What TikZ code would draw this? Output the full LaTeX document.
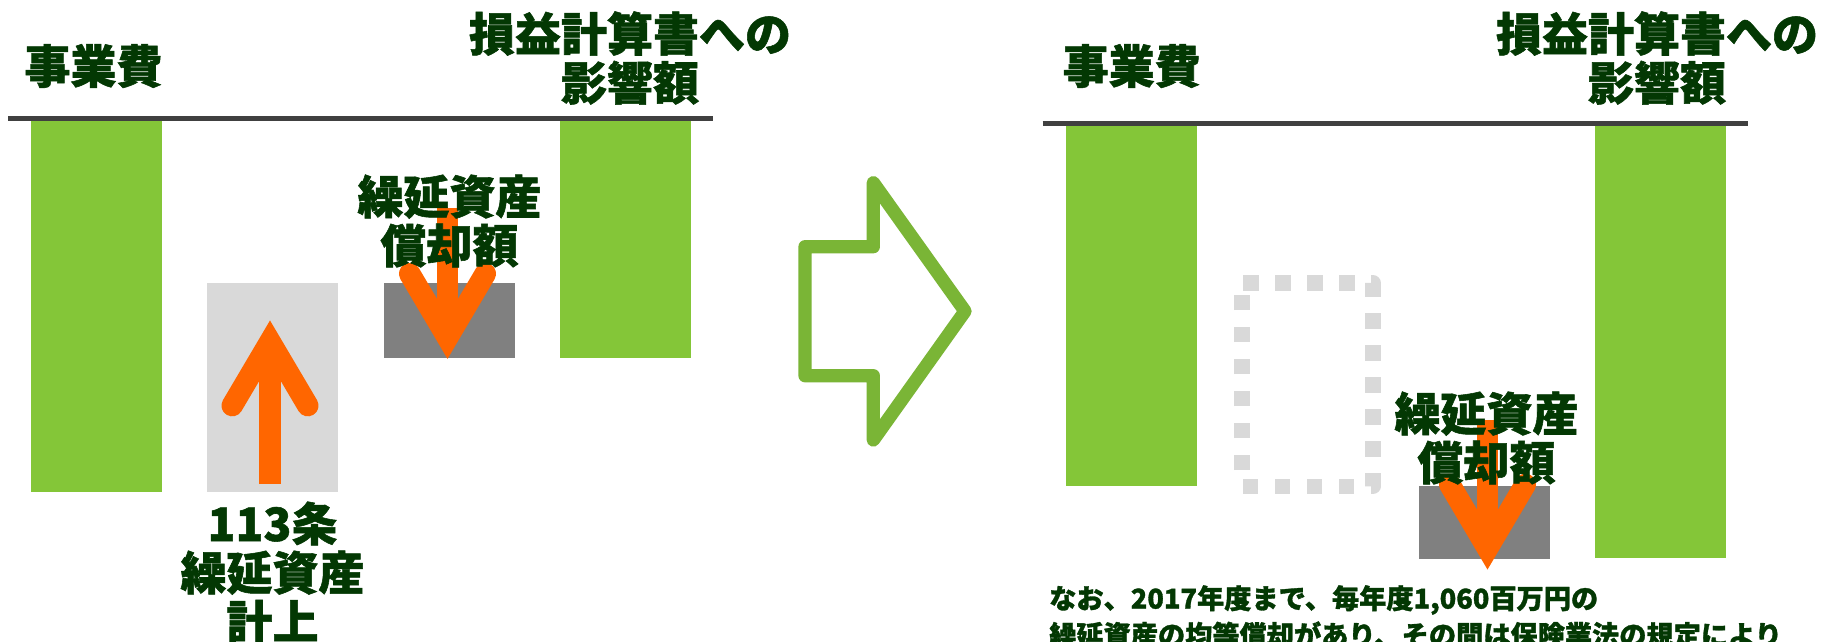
\documentclass[tikz,border=0pt]{standalone}
\usepackage{fontspec}
\setmainfont{Noto Sans CJK JP}[BoldFeatures={FakeBold=1.2}]
\definecolor{barg}{RGB}{132,198,56}
\definecolor{arrg}{RGB}{122,181,54}
\definecolor{lgray}{RGB}{217,217,217}
\definecolor{dgray}{RGB}{128,128,128}
\definecolor{orng}{RGB}{255,102,0}
\definecolor{axisc}{RGB}{64,64,64}
\definecolor{txt}{RGB}{3,56,3}
\tikzset{
  box/.style={draw=none, inner sep=0pt, outer sep=0pt, anchor=north west},
  greenbar/.style={box, fill=barg},
  lightbox/.style={box, fill=lgray},
  darkbox/.style={box, fill=dgray},
  axisline/.style={draw=axisc, line width=5pt},
  shaft/.style={draw=orng, line width=21.5pt, line cap=butt},
  arrhead/.style={draw=orng, line width=21.5pt, line cap=round, line join=miter},
  blockarrow/.style={draw=arrg, line width=13.3pt, line join=round},
  ghost/.style={draw=lgray, line width=15.3pt, dash pattern=on 15.3pt off 16.7pt, dash phase=30.7pt, line join=round},
  lbl/.style={text=txt, font=\bfseries\fontsize{46}{49}\selectfont, align=center, inner sep=0pt},
  note/.style={text=txt, font=\bfseries\fontsize{27.2}{36.7}\selectfont, align=left, inner sep=0pt, anchor=north west},
}
\begin{document}
\begin{tikzpicture}[x=1pt,y=-1pt]
\useasboundingbox[fill=white] (0,0) rectangle (1826,641);

% ---------------- left panel ----------------
\node[greenbar, minimum width=131pt, minimum height=371pt] (b1) at (31,121) {};
\node[lightbox, minimum width=131pt, minimum height=209pt] (g1) at (207,283) {};
\node[darkbox, minimum width=131pt, minimum height=75pt] (d1) at (384,283) {};
\node[greenbar, minimum width=131pt, minimum height=237pt] (b2) at (560,121) {};
\coordinate (la) at (8,118.5);
\coordinate (lb) at (713,118.5);
\draw[axisline] (la) -- (lb);

% up arrow
\coordinate (u0) at (270,484);
\coordinate (ut) at (270,341.6);
\coordinate (ua) at (232.2,405.6);
\coordinate (ub) at (307.8,405.6);
\draw[shaft] (u0) -- (ut);
\draw[arrhead] (ua) -- (ut) -- (ub);

% down arrow (left)
\coordinate (dl0) at (447.5,208);
\coordinate (dlt) at (447.5,337.7);
\coordinate (dla) at (409.7,273.7);
\coordinate (dlb) at (485.3,273.7);
\draw[shaft] (dl0) -- (dlt);
\draw[arrhead] (dla) -- (dlt) -- (dlb);

\node[lbl] (t1) at (93.5,66) {事業費};
\node[lbl] (t2) at (630,58) {損益計算書への\\影響額};
\node[lbl] (t3) at (449.5,221) {繰延資産\\償却額};
\node[lbl] (t4) at (272.5,572.5) {113条\\繰延資産\\計上};

% ---------------- middle block arrow ----------------
\coordinate (m1) at (805,246.7);
\coordinate (m2) at (873.3,246.7);
\coordinate (m3) at (873.3,182.7);
\coordinate (m4) at (965,311.2);
\coordinate (m5) at (873.3,440);
\coordinate (m6) at (873.3,375.7);
\coordinate (m7) at (805,375.7);
\draw[blockarrow] (m1) -- (m2) -- (m3) -- (m4) -- (m5) -- (m6) -- (m7) -- cycle;

% ---------------- right panel ----------------
\node[greenbar, minimum width=130.7pt, minimum height=360pt] (b3) at (1066,126) {};
\coordinate (gtl) at (1242,283);
\coordinate (gtr) at (1373,283);
\coordinate (gbr) at (1373,486.2);
\coordinate (gbl) at (1242,486.2);
\draw[ghost] (gtl) -- (gtr) -- (gbr) -- (gbl) -- cycle;
\node[darkbox, minimum width=131pt, minimum height=72.7pt] (d2) at (1419,486) {};
\node[greenbar, minimum width=130.7pt, minimum height=432.3pt] (b4) at (1595,126) {};
\coordinate (ra) at (1042.7,123.3);
\coordinate (rb) at (1748.3,123.3);
\draw[axisline] (ra) -- (rb);

% down arrow (right)
\coordinate (dr0) at (1487.5,420);
\coordinate (drt) at (1487.5,548.4);
\coordinate (dra) at (1449.7,484.4);
\coordinate (drb) at (1525.3,484.4);
\draw[shaft] (dr0) -- (drt);
\draw[arrhead] (dra) -- (drt) -- (drb);

\node[lbl] (t5) at (1131.7,66) {事業費};
\node[lbl] (t6) at (1657,58) {損益計算書への\\影響額};
\node[lbl] (t7) at (1486.5,438) {繰延資産\\償却額};
\node[note] (t8) at (1049,585) {なお、2017年度まで、毎年度1,060百万円の\\繰延資産の均等償却があり、その間は保険業法の規定により};
\end{tikzpicture}
\end{document}
